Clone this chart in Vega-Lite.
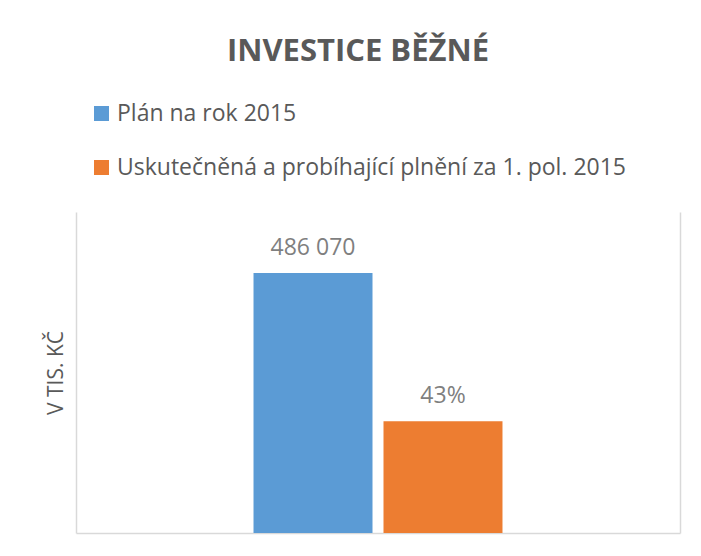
{
  "$schema": "https://vega.github.io/schema/vega-lite/v6.json",
  "width": 604,
  "height": 321,
  "autosize": "none",
  "padding": {"left": 76, "top": 212, "right": 21, "bottom": 23},
  "background": "white",
  "title": {
    "text": "INVESTICE BĚŽNÉ",
    "anchor": "middle",
    "frame": "group",
    "baseline": "alphabetic",
    "offset": 10,
    "dx": -20,
    "font": "Open Sans",
    "fontSize": 31,
    "fontWeight": "bold",
    "color": "#595959",
    "limit": 0
  },
  "data": {
    "values": [
      {"group": "Investice", "serie": "Plán na rok 2015", "value": 486070, "label": "486 070"},
      {"group": "Investice", "serie": "Uskutečněná a probíhající plnění za 1. pol. 2015", "value": 209010, "label": "43%"}
    ]
  },
  "encoding": {
    "x": {
      "field": "group",
      "type": "nominal",
      "scale": {"paddingInner": 0, "paddingOuter": 0.713},
      "axis": {"labels": false, "ticks": false, "title": null, "domainColor": "#D9D9D9", "domainWidth": 1.5}
    },
    "xOffset": {
      "field": "serie",
      "type": "nominal",
      "sort": null,
      "scale": {"paddingInner": 0.0846, "paddingOuter": 0}
    }
  },
  "layer": [
    {
      "mark": {"type": "bar"},
      "encoding": {
        "y": {
          "field": "value",
          "type": "quantitative",
          "scale": {"domain": [0, 600000], "nice": false},
          "axis": {"orient": "left", "title": "V TIS. KČ", "titleFont": "Open Sans", "titleFontSize": 21, "titleFontWeight": "normal", "titleColor": "#595959", "titlePadding": 10}
        },
        "color": {
          "field": "serie",
          "type": "nominal",
          "sort": null,
          "scale": {"range": ["#5B9BD5", "#ED7D31"]},
          "legend": {
            "orient": "none",
            "legendX": 14,
            "legendY": -110,
            "title": null,
            "symbolType": "square",
            "symbolSize": 225,
            "symbolStrokeWidth": 0,
            "labelFont": "Open Sans",
            "labelFontSize": 23,
            "labelColor": "#595959",
            "labelLimit": 1000,
            "labelOffset": 4,
            "rowPadding": 30,
            "direction": "vertical"
          }
        }
      }
    },
    {
      "mark": {"type": "text", "baseline": "alphabetic", "dy": -18, "font": "Open Sans", "fontSize": 23, "color": "#7F7F7F"},
      "encoding": {
        "y": {
          "field": "value",
          "type": "quantitative",
          "scale": {"domain": [0, 600000], "nice": false},
          "axis": {"orient": "right", "title": null}
        },
        "text": {"field": "label"}
      }
    }
  ],
  "resolve": {"axis": {"y": "independent"}},
  "config": {
    "view": {"stroke": null},
    "axisY": {"labels": false, "ticks": false, "grid": false, "domainColor": "#D9D9D9", "domainWidth": 1.5},
    "axisX": {"grid": false}
  }
}
